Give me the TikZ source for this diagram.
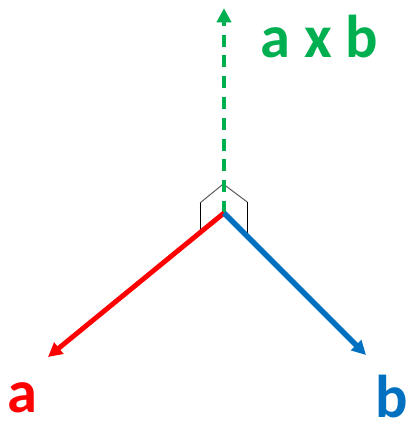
\documentclass[tikz,border=0pt]{standalone}
\usepackage{fontspec}
\setmainfont{Carlito}
\usetikzlibrary{arrows.meta,calc}
\definecolor{veca}{RGB}{255,0,0}
\definecolor{vecb}{RGB}{0,112,192}
\definecolor{vecab}{RGB}{0,176,80}
\tikzset{
  vecline/.style={line width=#1, -{Triangle[length=10pt,width=10pt]}},
  veclabel/.style={font=\fontsize{43}{43}\selectfont\bfseries, inner sep=0pt}
}

\begin{document}
\begin{tikzpicture}
  \useasboundingbox (0,0) rectangle (10.15,10.525);

  \coordinate (origin) at (5.6, 5.2);
  \coordinate (tipa) at (1.2, 1.6);
  \coordinate (tipb) at (9.15, 1.65);
  \coordinate (tipab) at (5.6, 10.32);

  % right angle marker
  \coordinate (cl) at (5.0, 5.45);
  \coordinate (ct) at (5.58, 5.925);
  \coordinate (cr) at (6.18, 5.475);
  \draw[gray!70!black, line width=0.7pt] (cl) -- (ct) -- (cr);
  \draw[black, line width=0.7pt] (cl) -- (cl |- 0,4.73);
  \draw[black, line width=0.7pt] (cr) -- (cr |- 0,4.63);

  \draw[vecab, vecline=2.5pt, dash pattern=on 8.5pt off 6.3pt] (origin) -- (tipab);
  \draw[veca, vecline=3.5pt] (origin) -- (tipa);
  \draw[vecb, vecline=4pt] (origin) -- (tipb);

  \node[veclabel, text=vecab] (labab) at (7.98, 9.6) {a x b};
  \node[veclabel, text=veca] (laba) at (0.55, 0.58) {a};
  \node[veclabel, text=vecb] (labb) at (9.8, 0.62) {b};
\end{tikzpicture}
\end{document}
